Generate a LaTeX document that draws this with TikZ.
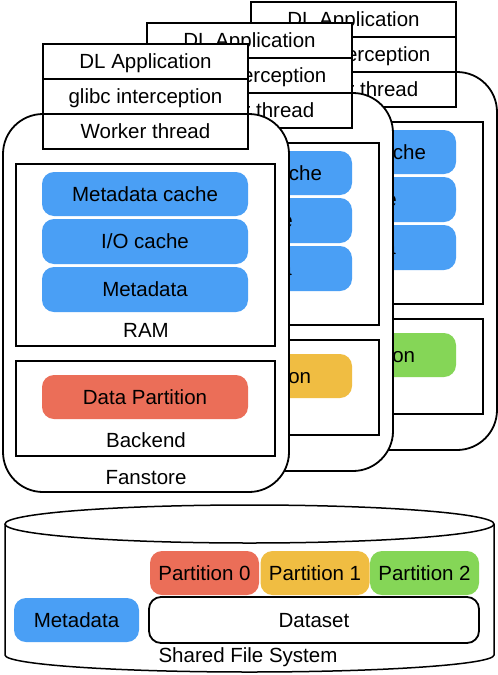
\documentclass[tikz,border=0pt]{standalone}
\usepackage{fontspec}
\setmainfont{Liberation Sans}
\definecolor{cblue}{HTML}{4A9FF5}
\definecolor{cred}{HTML}{EB6E58}
\definecolor{corange}{HTML}{F0BD42}
\definecolor{cgreen}{HTML}{85D657}
\tikzset{
  base/.style={inner sep=0pt, font=\fontsize{20.5}{24}\selectfont, text height=14.7pt, text depth=0pt},
  pill/.style={base, rounded corners=12pt, minimum width=206pt, minimum height=44pt},
  box/.style={base, draw, line width=1.8pt, fill=white},
  fbody/.style={box, rounded corners=40pt, minimum width=286pt, minimum height=378pt},
  inbox/.style={box, minimum width=259pt},
  hdr/.style={box, minimum width=205pt, minimum height=35pt},
  lbl/.style={base},
  part/.style={base, rounded corners=12pt, minimum width=109pt, minimum height=44pt},
}
\newcommand\fstack[4]{%
  \begin{scope}[shift={(#1,#2)}]
    \node[fbody] (#4body) at (146,303) {};
    \node[inbox, minimum height=182pt] (#4ram) at (145.5,255) {};
    \node[pill, fill=cblue] (#4mdc) at (145,194) {Metadata cache};
    \node[pill, fill=cblue, minimum height=45pt] (#4ioc) at (145,241.5) {I/O cache};
    \node[pill, fill=cblue, minimum height=45pt] (#4md) at (145,289.5) {Metadata};
    \node[lbl] (#4ramlbl) at (146,330) {RAM};
    \node[inbox, minimum height=95pt] (#4be) at (145.5,408.5) {};
    \node[pill, fill=#3] (#4dp) at (145,397) {Data Partition};
    \node[lbl] (#4belbl) at (146,440) {Backend};
    \node[lbl] (#4fslbl) at (146,477) {Fanstore};
    \node[hdr] (#4app) at (145.5,61.5) {DL Application};
    \node[hdr] (#4glibc) at (145.5,96.5) {glibc interception};
    \node[hdr] (#4wt) at (145.5,131.5) {Worker thread};
  \end{scope}}
\begin{document}
\begin{tikzpicture}[x=1pt,y=-1pt]
  \useasboundingbox (0,0) rectangle (498,675);
  \fstack{208}{-42}{cgreen}{s2}
  \fstack{104}{-21}{corange}{s1}
  \fstack{0}{0}{cred}{s0}
  % shared file system cylinder
  \draw[line width=1.5pt, fill=white] (5,524) -- (5,655)
     arc[start angle=180, end angle=0, x radius=244.5, y radius=17] -- (494,524);
  \draw[line width=1.5pt, fill=white] (249.5,524) ellipse [x radius=244.5, y radius=19];
  \node[part, fill=cred] (p0) at (204.5,573) {Partition 0};
  \node[part, fill=corange] (p1) at (315,573) {Partition 1};
  \node[part, fill=cgreen] (p2) at (424.5,573) {Partition 2};
  \node[base, fill=cblue, rounded corners=12pt, minimum width=125pt, minimum height=44pt] (smd) at (76.5,620) {Metadata};
  \node[box, rounded corners=12pt, minimum width=330pt, minimum height=46pt] (ds) at (314,620) {Dataset};
  \node[lbl] (sfs) at (248,655) {Shared File System};
\end{tikzpicture}
\end{document}
